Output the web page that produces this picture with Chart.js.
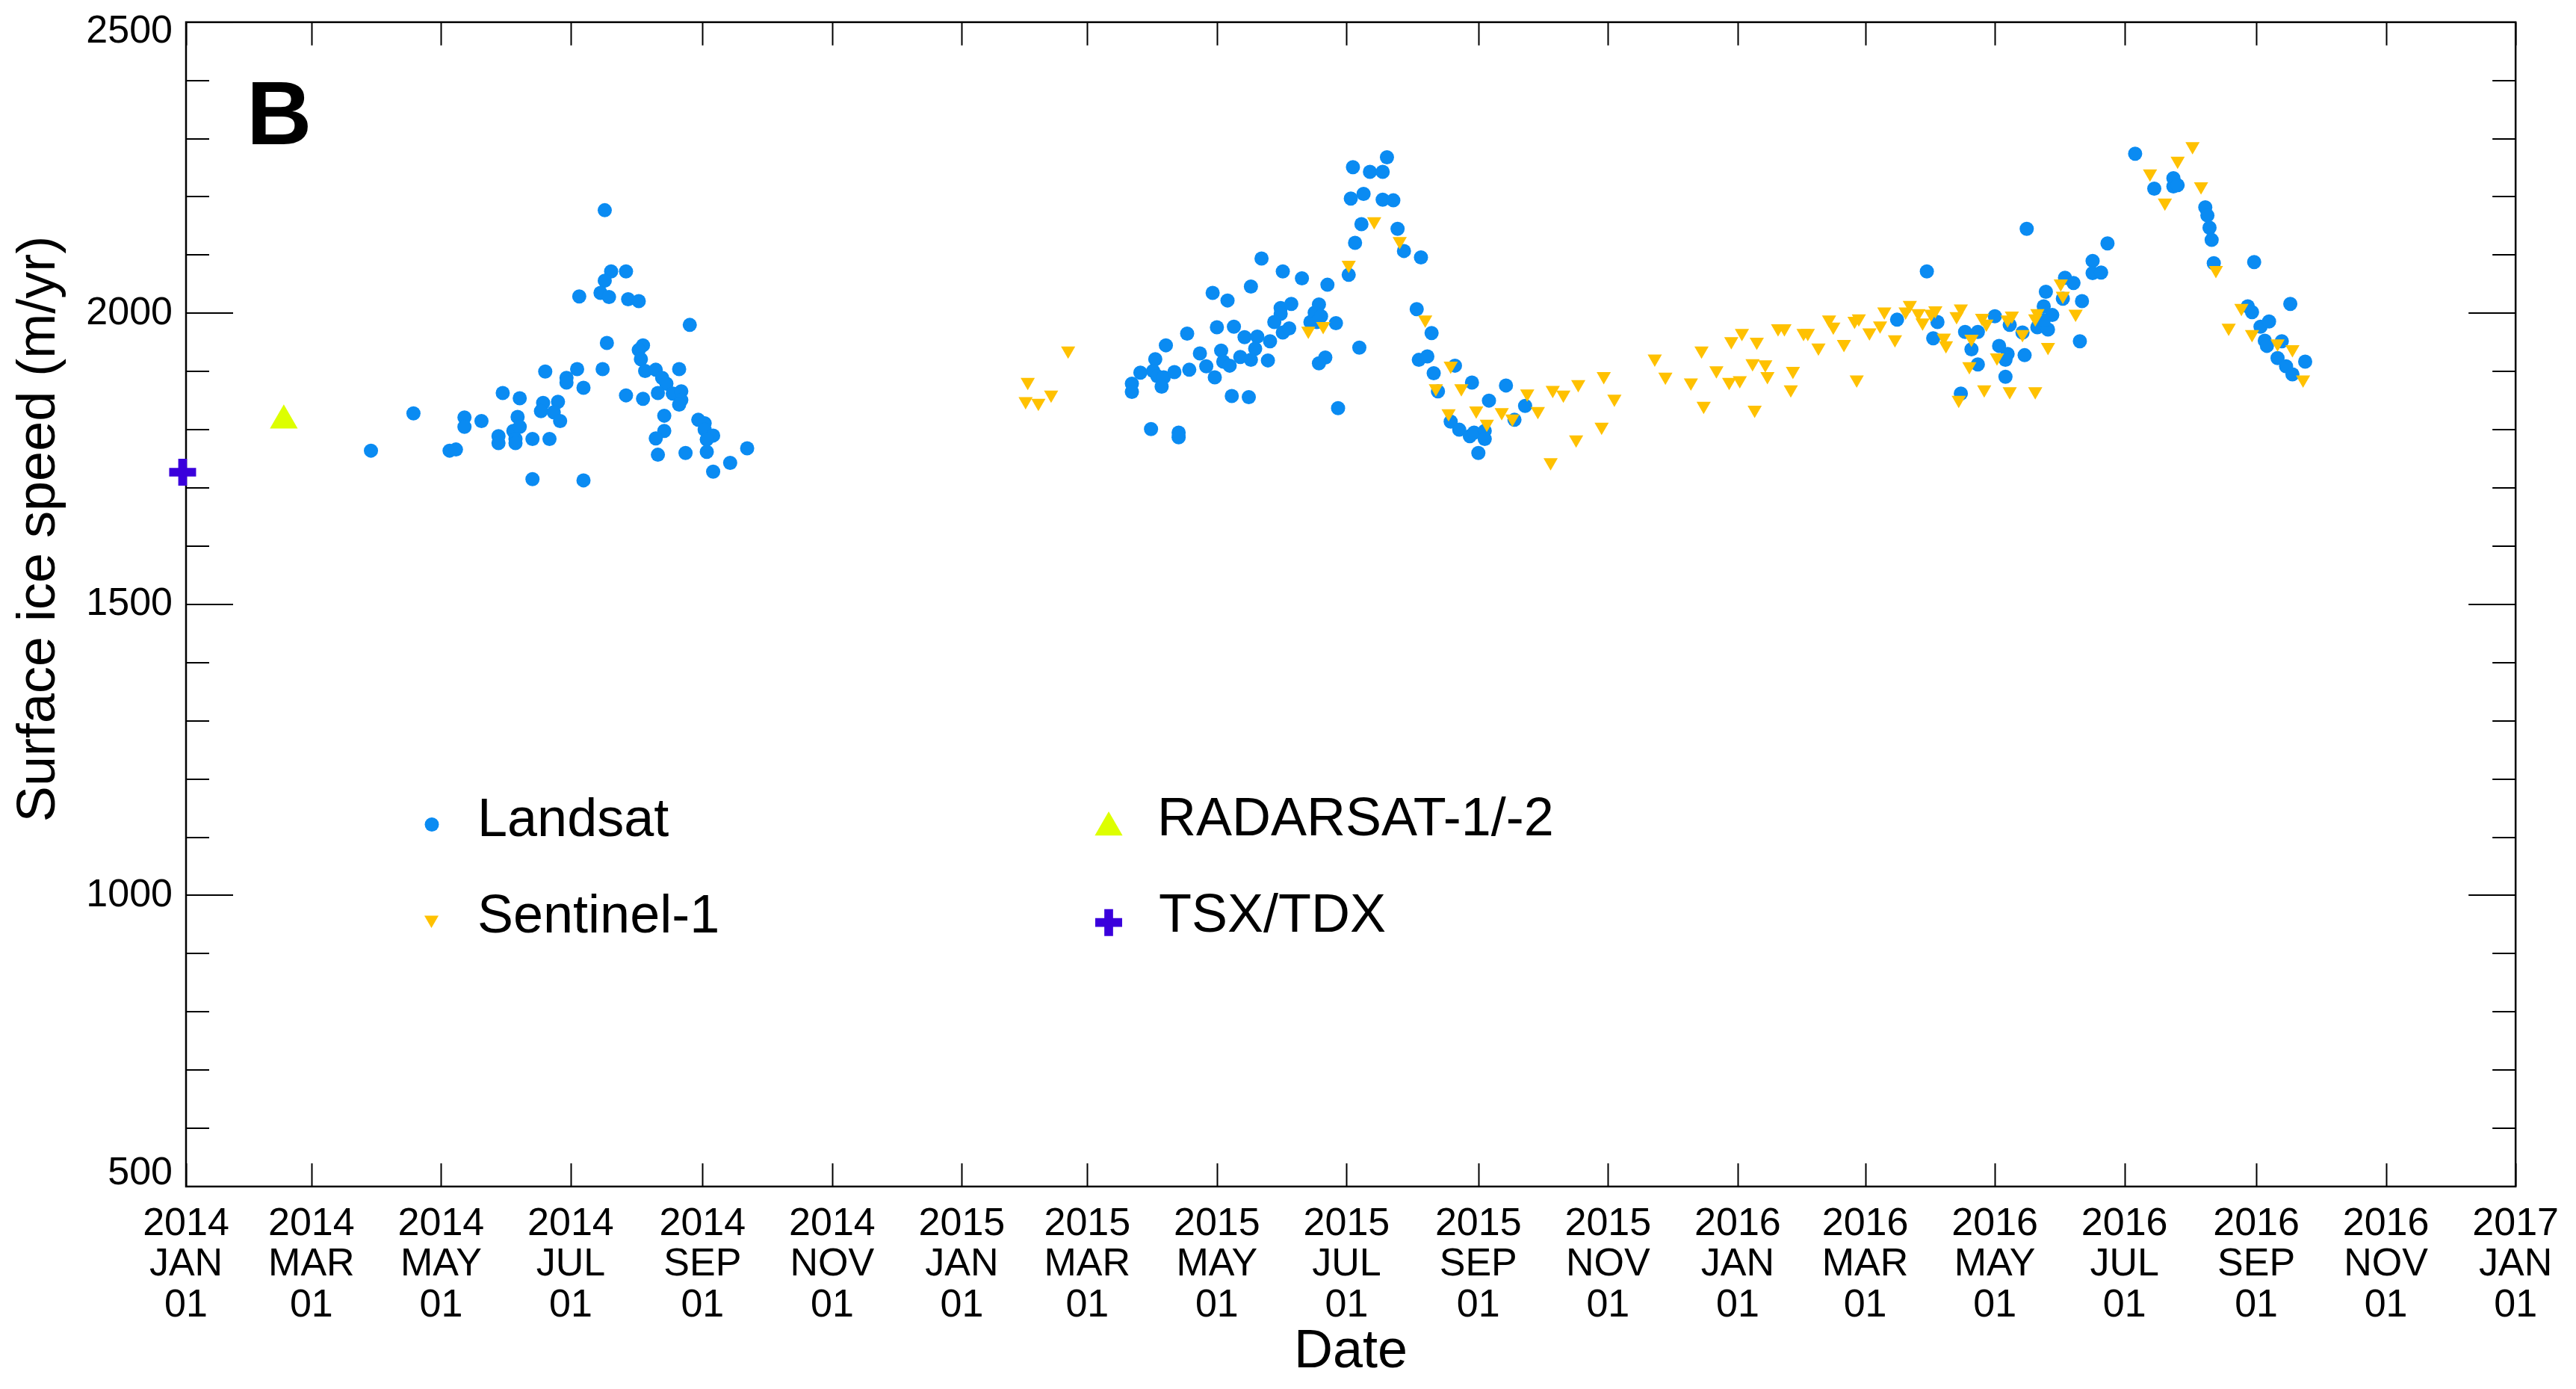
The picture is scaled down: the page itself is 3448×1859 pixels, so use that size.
<!DOCTYPE html>
<html>
<head>
<meta charset="utf-8">
<script src="https://cdn.jsdelivr.net/npm/chart.js@4.4.1/dist/chart.umd.min.js"></script>
<style>
  html, body { margin: 0; padding: 0; background: #ffffff; }
  #wrap { width: 3448px; height: 1859px; }
</style>
</head>
<body>
<div id="wrap"><canvas id="c" width="3448" height="1859" style="width:3448px;height:1859px"></canvas></div>
<script>
// ---- data: [days since 2014-01-01, surface ice speed (m/yr)] ----
const landsat2014 = [
  [87,1764],[107,1828],[124,1764],[127,1766],[131,1821],[131,1805],[139,1815],[147,1789],[147,1777],[149,1863],
  [157,1854],[156,1822],[154,1798],[157,1805],[155,1784],[155,1777],[163,1784],[171,1784],[163,1715],[169,1900],
  [168,1846],[167,1832],[175,1848],[173,1830],[176,1815],[179,1889],[179,1881],[184,1904],[187,1872],[187,1713],
  [197,2177],[200,2072],[197,2056],[195,2035],[199,2028],[207,2072],[185,2029],[208,2024],[213,2021],[198,1949],
  [196,1904],[207,1859],[215,1853],[237,1980],[215,1945],[213,1937],[214,1921],[216,1901],[221,1903],[224,1889],
  [226,1879],[222,1863],[232,1904],[229,1862],[233,1866],[233,1851],[232,1843],[225,1824],[225,1798],[221,1785],
  [222,1757],[235,1760],[241,1817],[244,1811],[244,1800],[248,1790],[245,1783],[245,1762],[264,1768],[256,1743],
  [248,1728]
];
const landsat2015 = [
  [445,1879],[445,1865],[449,1898],[456,1921],[455,1901],[457,1892],[460,1890],[459,1874],[461,1945],[465,1899],
  [471,1965],[472,1903],[477,1931],[480,1909],[484,1890],[483,2035],[490,2022],[485,1976],[493,1977],[487,1936],
  [488,1917],[491,1910],[498,1959],[504,1960],[503,1939],[496,1925],[501,1920],[510,1952],[509,1919],[501,2046],
  [506,2094],[516,2072],[525,2060],[537,2049],[515,2009],[520,2016],[515,1999],[512,1985],[516,1967],[519,1974],
  [533,2015],[531,2001],[534,1995],[529,1985],[532,1985],[541,1983],[536,1924],[533,1914],[552,1941],[547,2066],
  [542,1837],[492,1858],[500,1856],[454,1801],[467,1795],[467,1787],[549,2251],[557,2243],[563,2243],[565,2268],
  [548,2197],[554,2205],[563,2195],[568,2194],[553,2153],[550,2121],[570,2145],[573,2107],
  [581,2096],[579,2007],[586,1966],[580,1920],[584,1926],[597,1910],[587,1897],[589,1866],[605,1881],[621,1876],
  [613,1850],[630,1841],[625,1817],[595,1814],[599,1800],[604,1789],[606,1795],[611,1798],[611,1784],[608,1760]
];
const landsat2016 = [
  [805,1989],[819,2072],[824,1985],[822,1957],[837,1968],[843,1968],[840,1938],[843,1912],[835,1862],[851,1995],
  [858,1980],[864,1967],[853,1944],[857,1930],[856,1920],[865,1928],[856,1891],[866,2145],[875,2037],[874,2012],
  [878,1997],[871,1976],[876,1972],[874,1988],[884,2061],[888,2052],[883,2025],[892,2021],[891,1952],[897,2090],
  [897,2069],[901,2070],[904,2120],[917,2274],[926,2214],[935,2232],[935,2218],[937,2220],
  [950,2182],[951,2168],[952,2147],[953,2126],[954,2086],[973,2088],[970,2012],[972,2002],[976,1977],[980,1986],
  [978,1953],[979,1944],[986,1952],[990,2016],[984,1923],[988,1909],[991,1895],[997,1917]
];
const sentinel1 = [
  [396,1882],[395,1849],[401,1846],[407,1860],[415,1936],[547,2083],[559,2158],[571,2124],[528,1970],[535,1978],
  [583,1989],[595,1910],[588,1871],[600,1871],[594,1828],[607,1833],[612,1810],[619,1830],[624,1819],[631,1862],
  [636,1832],[643,1868],[648,1860],[655,1878],[667,1892],[672,1853],[666,1805],[654,1783],[642,1744],[691,1922],
  [696,1891],[708,1881],[713,1936],[714,1841],[720,1902],[726,1882],[731,1885],[727,1952],[732,1966],[739,1951],
  [737,1914],[743,1912],[744,1892],[738,1834],[749,1974],[752,1974],[756,1901],[755,1869],[761,1966],[763,1966],
  [768,1941],[773,1989],[775,1977],[780,1947],[785,1987],[787,1991],[792,1967],[797,1979],[799,2003],[786,1886],
  [804,1955],[811,2014],[809,2003],[815,2000],[817,1984],[823,2005],[821,1999],[835,2008],[833,1995],[827,1958],
  [828,1945],[845,1992],[847,1982],[840,1956],[839,1909],[852,1924],[846,1869],[834,1851],[858,1866],[870,1866],
  [859,1996],[857,1989],[864,1964],[871,2000],[870,1991],[876,1942],[882,2051],[883,2030],[889,1999],[924,2240],
  [937,2262],[931,2190],[944,2287],[948,2218],[955,2074],[967,2009],[961,1975],[972,1964],[984,1948],[991,1938],
  [996,1886]
];
const radarsat = [[46,1816]];
const tsxTdx = [[-1.6,1727]];

// ---- axis ticks ----
const tickDates = ['2014-01-01','2014-03-01','2014-05-01','2014-07-01','2014-09-01','2014-11-01',
                   '2015-01-01','2015-03-01','2015-05-01','2015-07-01','2015-09-01','2015-11-01',
                   '2016-01-01','2016-03-01','2016-05-01','2016-07-01','2016-09-01','2016-11-01','2017-01-01'];
const monthNames = ['JAN','FEB','MAR','APR','MAY','JUN','JUL','AUG','SEP','OCT','NOV','DEC'];
const yMajorTicks = [500,1000,1500,2000,2500];

const seriesNames = ['Landsat','Sentinel-1','RADARSAT-1/-2','TSX/TDX'];
const seriesColors = ['#0A8BF2','#FFC100','#DDFF00','#3A00DC'];

const FONT = '"Liberation Sans", Arial, Helvetica, sans-serif';
const epoch = Date.UTC(2014,0,1);
function dayOf(s){ const p = s.split('-').map(Number); return (Date.UTC(p[0],p[1]-1,p[2]) - epoch)/864e5; }
const tickDays = tickDates.map(dayOf);
const tickLabels = tickDates.map(s => { const p = s.split('-'); return [p[0], monthNames[+p[1]-1], p[2]]; });
const xMax = tickDays[tickDays.length-1];
const yMin = yMajorTicks[0], yMax = yMajorTicks[yMajorTicks.length-1];
const toXY = arr => arr.map(p => ({x:p[0], y:p[1]}));
const landsatAll = landsat2014.concat(landsat2015, landsat2016);

function drawMarker(ctx, style, x, y, r, color, lw){
  ctx.save();
  ctx.fillStyle = color; ctx.strokeStyle = color;
  ctx.beginPath();
  if (style === 'circle') { ctx.arc(x, y, r, 0, Math.PI*2); ctx.fill(); }
  else if (style === 'tri' || style === 'triDown') {
    let rad = style === 'triDown' ? Math.PI : 0;
    for (let k=0;k<3;k++){ const px = x + Math.sin(rad)*r, py = y - Math.cos(rad)*r; if(k===0)ctx.moveTo(px,py); else ctx.lineTo(px,py); rad += 2*Math.PI/3; }
    ctx.closePath(); ctx.fill();
  } else if (style === 'cross') {
    ctx.lineWidth = lw; ctx.lineCap = 'butt';
    ctx.moveTo(x, y-r); ctx.lineTo(x, y+r); ctx.moveTo(x-r, y); ctx.lineTo(x+r, y); ctx.stroke();
  }
  ctx.restore();
}

const framePlugin = {
  id: 'frame',
  beforeDatasetsDraw(chart){
    const {ctx, chartArea: a, scales: {x, y}} = chart;
    ctx.save();
    ctx.strokeStyle = '#000'; ctx.lineCap = 'butt';
    ctx.lineWidth = 2;
    ctx.beginPath();
    tickDays.forEach(d => {
      const px = Math.round(x.getPixelForValue(d)) + 0.5;
      ctx.moveTo(px, a.bottom); ctx.lineTo(px, a.bottom - 31);
      ctx.moveTo(px, a.top); ctx.lineTo(px, a.top + 31);
    });
    for (let v = yMin; v <= yMax; v += 100) {
      const py = Math.round(y.getPixelForValue(v));
      const len = yMajorTicks.includes(v) ? 63 : 31;
      ctx.moveTo(a.left, py); ctx.lineTo(a.left + len, py);
      ctx.moveTo(a.right, py); ctx.lineTo(a.right - len, py);
    }
    ctx.stroke();
    ctx.lineWidth = 2.5;
    ctx.strokeRect(a.left, a.top, a.right - a.left, a.bottom - a.top);
    ctx.restore();
  },
  afterDraw(chart){
    const {ctx} = chart;
    ctx.save();
    ctx.fillStyle = '#000';
    // panel letter
    ctx.font = 'bold 121px ' + FONT;
    ctx.textAlign = 'left'; ctx.textBaseline = 'alphabetic';
    ctx.fillText('B', 330, 193);
    // y axis title
    ctx.font = '72px ' + FONT;
    ctx.translate(73, 708);
    ctx.rotate(-Math.PI/2);
    ctx.textAlign = 'center';
    ctx.fillText('Surface ice speed (m/yr)', 0, 0);
    ctx.restore();

    // legend
    ctx.save();
    ctx.font = '72px ' + FONT;
    ctx.fillStyle = '#000'; ctx.textAlign = 'left'; ctx.textBaseline = 'alphabetic';
    drawMarker(ctx, 'circle', 578, 1103.5, 9.5, seriesColors[0]);
    ctx.fillText(seriesNames[0], 639, 1119);
    drawMarker(ctx, 'triDown', 577.5, 1231, 11, seriesColors[1]);
    ctx.fillText(seriesNames[1], 639, 1248);
    drawMarker(ctx, 'tri', 1484, 1107.5, 21.5, seriesColors[2]);
    ctx.fillText(seriesNames[2], 1549, 1118);
    drawMarker(ctx, 'cross', 1484, 1234.7, 18, seriesColors[3], 11.7);
    ctx.fillText(seriesNames[3], 1551, 1247);
    ctx.restore();
  }
};

new Chart(document.getElementById('c'), {
  type: 'scatter',
  data: {
    datasets: [
      { label: seriesNames[3], data: toXY(tsxTdx), pointStyle: 'cross', pointRadius: 18, borderWidth: 11.7,
        borderColor: seriesColors[3], backgroundColor: seriesColors[3], clip: false, order: 0 },
      { label: seriesNames[2], data: toXY(radarsat), pointStyle: 'triangle', pointRadius: 21.5, borderWidth: 0,
        backgroundColor: seriesColors[2], borderColor: seriesColors[2], clip: false, order: 1 },
      { label: seriesNames[1], data: toXY(sentinel1), pointStyle: 'triangle', rotation: 180, pointRadius: 11, borderWidth: 0,
        backgroundColor: seriesColors[1], borderColor: seriesColors[1], clip: false, order: 2 },
      { label: seriesNames[0], data: toXY(landsatAll), pointStyle: 'circle', pointRadius: 9.5, borderWidth: 0,
        backgroundColor: seriesColors[0], borderColor: seriesColors[0], clip: false, order: 3 }
    ]
  },
  options: {
    responsive: false, animation: false, devicePixelRatio: 1,
    events: [],
    layout: { padding: { left: 0, right: 78, top: 29, bottom: 0 } },
    plugins: { legend: { display: false }, tooltip: { enabled: false } },
    scales: {
      x: {
        type: 'linear', position: 'bottom', min: 0, max: xMax,
        afterBuildTicks: s => { s.ticks = tickDays.map(v => ({ value: v })); },
        afterFit: s => { s.height = 271; },
        grid: { display: false, drawTicks: false }, border: { display: false },
        ticks: { autoSkip: false, maxRotation: 0, minRotation: 0, padding: 23, color: '#000',
          font: { family: FONT, size: 52, lineHeight: 1.05 },
          callback: (v, i) => tickLabels[i] },
        title: { display: true, text: 'Date', color: '#000', font: { family: FONT, size: 72, lineHeight: 1 },
          padding: { top: 0, bottom: 13 } }
      },
      y: {
        type: 'linear', position: 'left', min: yMin, max: yMax,
        afterFit: s => { s.width = 249; s.paddingTop = 0; s.paddingBottom = 0; },
        grid: { display: false, drawTicks: false }, border: { display: false },
        ticks: { stepSize: 100, autoSkip: false, padding: 18, color: '#000',
          // end labels sit inside the frame, as in the original figure
          font: c => ({ family: FONT, size: 52,
            lineHeight: (c.tick && c.tick.value === yMax) ? 0.48 : ((c.tick && c.tick.value === yMin) ? 0.654 : 1) }),
          callback: v => {
            if (!yMajorTicks.includes(v)) return '';
            if (v === yMax) return ['', String(v)];
            if (v === yMin) return [String(v), ''];
            return String(v);
          } }
      }
    }
  },
  plugins: [framePlugin]
});
</script>
</body>
</html>
